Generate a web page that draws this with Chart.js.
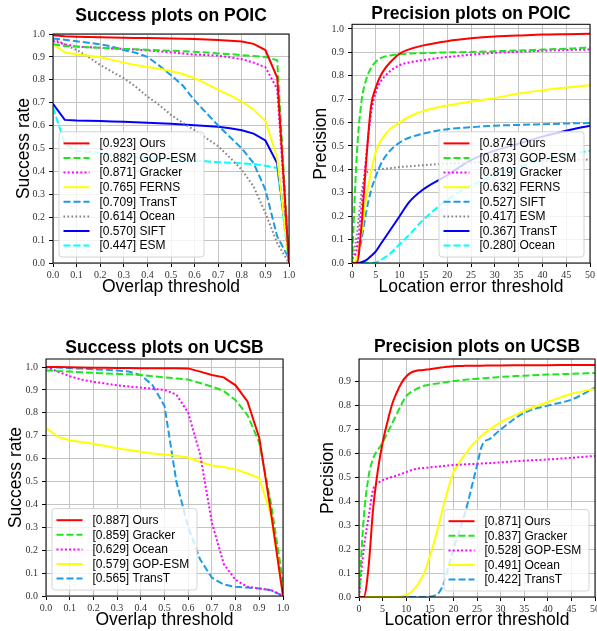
<!DOCTYPE html>
<html>
<head>
<meta charset="utf-8">
<script src="https://cdn.jsdelivr.net/npm/chart.js@4.4.1/dist/chart.umd.min.js"></script>
<style>
  html, body { margin: 0; padding: 0; background: #fff; width: 597px; height: 631px; overflow: hidden; }
  canvas { position: absolute; }
</style>
</head>
<body>
<canvas id="poicSuccess" width="298" height="316" style="left:0;top:0"></canvas>
<canvas id="poicPrecision" width="299" height="316" style="left:298px;top:0"></canvas>
<canvas id="ucsbSuccess" width="298" height="315" style="left:0;top:316px"></canvas>
<canvas id="ucsbPrecision" width="312" height="315" style="left:298px;top:316px"></canvas>
<script>
// ---------------- data ----------------
const overlapThresholds = [0, 0.05, 0.1, 0.15, 0.2, 0.25, 0.3, 0.35, 0.4, 0.45, 0.5,
                           0.55, 0.6, 0.65, 0.7, 0.75, 0.8, 0.85, 0.9, 0.95, 1.0];

// Success plots on POIC
const poicSuccessNames  = ['Ours', 'GOP-ESM', 'Gracker', 'FERNS', 'TransT', 'Ocean', 'SIFT', 'ESM'];
const poicSuccessScores = [0.923, 0.882, 0.871, 0.765, 0.709, 0.614, 0.570, 0.447];
const poicSuccessOurs    = [0.995, 0.99, 0.988, 0.987, 0.986, 0.985, 0.984, 0.983, 0.982, 0.981, 0.98, 0.979, 0.978, 0.976, 0.974, 0.971, 0.967, 0.957, 0.93, 0.81, 0.0];
const poicSuccessGopEsm  = [0.955, 0.948, 0.945, 0.942, 0.94, 0.937, 0.935, 0.933, 0.931, 0.929, 0.927, 0.925, 0.922, 0.919, 0.915, 0.912, 0.908, 0.904, 0.9, 0.885, 0.0];
const poicSuccessGracker = [0.97, 0.955, 0.945, 0.942, 0.94, 0.937, 0.935, 0.932, 0.928, 0.924, 0.92, 0.915, 0.91, 0.908, 0.905, 0.898, 0.89, 0.875, 0.855, 0.76, 0.0];
const poicSuccessFerns   = [0.955, 0.92, 0.912, 0.905, 0.898, 0.887, 0.875, 0.865, 0.856, 0.848, 0.838, 0.825, 0.807, 0.782, 0.756, 0.732, 0.705, 0.669, 0.62, 0.46, 0.0];
const poicSuccessTransT  = [0.98, 0.975, 0.968, 0.962, 0.955, 0.945, 0.93, 0.918, 0.9, 0.862, 0.82, 0.775, 0.71, 0.655, 0.6, 0.55, 0.5, 0.436, 0.32, 0.116, 0.02];
const poicSuccessOcean   = [0.98, 0.955, 0.93, 0.9, 0.865, 0.835, 0.807, 0.77, 0.727, 0.69, 0.647, 0.612, 0.58, 0.545, 0.51, 0.46, 0.407, 0.334, 0.218, 0.087, 0.0];
const poicSuccessSift    = [0.695, 0.625, 0.622, 0.621, 0.62, 0.618, 0.617, 0.615, 0.612, 0.61, 0.608, 0.605, 0.602, 0.598, 0.595, 0.588, 0.58, 0.565, 0.535, 0.435, 0.03];
const poicSuccessEsm     = [0.68, 0.52, 0.49, 0.485, 0.48, 0.472, 0.465, 0.462, 0.458, 0.455, 0.452, 0.45, 0.447, 0.444, 0.44, 0.438, 0.435, 0.432, 0.425, 0.415, 0.0];

// Precision plots on POIC
const poicErrThresholds = [0, 1, 2, 3, 4, 5, 6, 7, 8, 10, 12, 15, 20, 25, 30, 35, 40, 45, 50];
const poicPrecisionNames  = ['Ours', 'GOP-ESM', 'Gracker', 'FERNS', 'SIFT', 'ESM', 'TransT', 'Ocean'];
const poicPrecisionScores = [0.874, 0.873, 0.819, 0.632, 0.527, 0.417, 0.367, 0.280];
const poicPrecisionOurs    = [0, 0.0, 0.16, 0.44, 0.67, 0.75, 0.8, 0.833, 0.857, 0.895, 0.913, 0.93, 0.948, 0.96, 0.968, 0.972, 0.976, 0.978, 0.98];
const poicPrecisionGopEsm  = [0, 0.46, 0.69, 0.785, 0.833, 0.86, 0.875, 0.883, 0.887, 0.892, 0.895, 0.897, 0.9, 0.902, 0.905, 0.908, 0.912, 0.916, 0.92];
const poicPrecisionGracker = [0.02, 0.06, 0.24, 0.46, 0.64, 0.73, 0.775, 0.8, 0.82, 0.845, 0.857, 0.867, 0.88, 0.89, 0.898, 0.903, 0.907, 0.91, 0.912];
const poicPrecisionFerns   = [0, 0.02, 0.13, 0.28, 0.39, 0.475, 0.52, 0.55, 0.572, 0.6, 0.625, 0.65, 0.673, 0.69, 0.705, 0.724, 0.738, 0.75, 0.76];
const poicPrecisionSift    = [0, 0.01, 0.1, 0.22, 0.31, 0.37, 0.42, 0.455, 0.48, 0.515, 0.535, 0.553, 0.572, 0.58, 0.587, 0.59, 0.593, 0.596, 0.598];
const poicPrecisionEsm     = [0, 0.12, 0.3, 0.385, 0.393, 0.398, 0.401, 0.403, 0.405, 0.41, 0.413, 0.418, 0.425, 0.43, 0.433, 0.436, 0.438, 0.44, 0.442];
const poicPrecisionTransT  = [0, 0, 0.003, 0.012, 0.03, 0.05, 0.08, 0.11, 0.14, 0.2, 0.26, 0.315, 0.375, 0.44, 0.48, 0.51, 0.54, 0.565, 0.587];
const poicPrecisionOcean   = [0, 0, 0, 0, 0, 0.003, 0.012, 0.025, 0.04, 0.08, 0.12, 0.185, 0.27, 0.33, 0.375, 0.41, 0.44, 0.462, 0.48];

// Success plots on UCSB
const ucsbSuccessNames  = ['Ours', 'Gracker', 'Ocean', 'GOP-ESM', 'TransT'];
const ucsbSuccessScores = [0.887, 0.859, 0.629, 0.579, 0.565];
const ucsbSuccessOurs    = [1.0, 1.0, 0.999, 0.998, 0.997, 0.997, 0.996, 0.996, 0.995, 0.995, 0.995, 0.995, 0.994, 0.98, 0.965, 0.955, 0.92, 0.85, 0.69, 0.36, 0.0];
const ucsbSuccessGracker = [0.985, 0.982, 0.98, 0.977, 0.975, 0.972, 0.97, 0.968, 0.965, 0.96, 0.955, 0.95, 0.945, 0.93, 0.915, 0.895, 0.855, 0.79, 0.67, 0.4, 0.06];
const ucsbSuccessOcean   = [1.0, 0.98, 0.96, 0.945, 0.935, 0.928, 0.92, 0.915, 0.91, 0.905, 0.9, 0.88, 0.8, 0.62, 0.32, 0.14, 0.07, 0.04, 0.033, 0.025, 0.0];
const ucsbSuccessGopEsm  = [0.735, 0.695, 0.68, 0.673, 0.665, 0.655, 0.645, 0.638, 0.63, 0.622, 0.618, 0.612, 0.605, 0.585, 0.57, 0.563, 0.553, 0.535, 0.515, 0.35, 0.0];
const ucsbSuccessTransT  = [1.0, 0.998, 0.995, 0.993, 0.99, 0.988, 0.985, 0.98, 0.965, 0.92, 0.83, 0.5, 0.3, 0.16, 0.08, 0.05, 0.04, 0.037, 0.033, 0.025, 0.0];

// Precision plots on UCSB
const ucsbErrThresholds = [0, 1, 2, 3, 4, 5, 6, 7, 8, 9, 10, 11, 12, 13, 14, 15, 16, 17, 18, 19, 20,
                           21, 22, 23, 24, 25, 26, 28, 30, 35, 40, 45, 50];
const ucsbPrecisionNames  = ['Ours', 'Gracker', 'GOP-ESM', 'Ocean', 'TransT'];
const ucsbPrecisionScores = [0.871, 0.837, 0.528, 0.491, 0.422];
const ucsbPrecisionOurs    = [0, 0, 0.12, 0.37, 0.53, 0.645, 0.73, 0.805, 0.855, 0.895, 0.922, 0.938, 0.945, 0.948, 0.95, 0.952, 0.955, 0.958, 0.961, 0.963, 0.965,
                              0.966, 0.966, 0.967, 0.967, 0.967, 0.967, 0.968, 0.968, 0.969, 0.969, 0.97, 0.97];
const ucsbPrecisionGracker = [0, 0.33, 0.5, 0.58, 0.615, 0.645, 0.685, 0.725, 0.765, 0.805, 0.84, 0.857, 0.868, 0.877, 0.884, 0.888, 0.891, 0.894, 0.897, 0.9, 0.903,
                              0.905, 0.907, 0.909, 0.911, 0.912, 0.914, 0.917, 0.92, 0.925, 0.93, 0.933, 0.937];
const ucsbPrecisionGopEsm  = [0, 0.2, 0.33, 0.45, 0.475, 0.488, 0.495, 0.502, 0.508, 0.515, 0.522, 0.53, 0.535, 0.538, 0.54, 0.542, 0.544, 0.546, 0.548, 0.55, 0.552,
                              0.553, 0.554, 0.555, 0.556, 0.557, 0.558, 0.56, 0.563, 0.57, 0.575, 0.582, 0.59];
const ucsbPrecisionOcean   = [0, 0, 0, 0, 0, 0, 0, 0, 0, 0.003, 0.01, 0.02, 0.04, 0.07, 0.11, 0.17, 0.235, 0.31, 0.39, 0.46, 0.52,
                              0.555, 0.585, 0.61, 0.635, 0.655, 0.675, 0.705, 0.73, 0.778, 0.815, 0.85, 0.87];
const ucsbPrecisionTransT  = [0, 0, 0, 0, 0, 0, 0, 0, 0, 0, 0, 0, 0, 0, 0, 0.002, 0.006, 0.02, 0.06, 0.13, 0.2,
                              0.26, 0.32, 0.39, 0.47, 0.55, 0.63, 0.665, 0.7, 0.77, 0.8, 0.825, 0.875];

// ---------------- styling ----------------
// Line style by legend rank (same order in every panel)
const rankStyles = [
  { color: '#ff0000', dash: [] },
  { color: '#1ee61e', dash: [7, 3] },
  { color: '#ff00ff', dash: [2, 2.2] },
  { color: '#ffff00', dash: [] },
  { color: '#1c9be6', dash: [7, 3] },
  { color: '#808080', dash: [1.6, 2.4] },
  { color: '#0000ff', dash: [] },
  { color: '#00ffff', dash: [7, 3] }
];

const SANS = '"Liberation Sans", Arial, sans-serif';
const SERIF = '"Liberation Serif", "Times New Roman", serif';

// Axes frame and an in-plot legend box (semi-transparent, like a matplotlib legend)
const frameLegend = {
  id: 'frameLegend',
  afterDatasetsDraw(chart, args, opts) {
    const { ctx, chartArea: a } = chart;
    ctx.save();
    ctx.strokeStyle = '#000';
    ctx.lineWidth = 1;
    ctx.setLineDash([]);
    ctx.strokeRect(a.left, a.top, a.right - a.left, a.bottom - a.top);

    const sets = chart.data.datasets;
    const rowH = 14.6, w = 145, h = 23 + (sets.length - 1) * rowH;
    const x0 = opts.corner === 'left' ? a.left + 6 : a.right - 6 - w;
    const y0 = a.bottom - 6 - h;
    const r = 3;
    ctx.beginPath();
    ctx.moveTo(x0 + r, y0);
    ctx.lineTo(x0 + w - r, y0);
    ctx.arcTo(x0 + w, y0, x0 + w, y0 + r, r);
    ctx.lineTo(x0 + w, y0 + h - r);
    ctx.arcTo(x0 + w, y0 + h, x0 + w - r, y0 + h, r);
    ctx.lineTo(x0 + r, y0 + h);
    ctx.arcTo(x0, y0 + h, x0, y0 + h - r, r);
    ctx.lineTo(x0, y0 + r);
    ctx.arcTo(x0, y0, x0 + r, y0, r);
    ctx.closePath();
    ctx.fillStyle = 'rgba(255,255,255,0.8)';
    ctx.fill();
    ctx.strokeStyle = '#d4d4d4';
    ctx.stroke();

    ctx.font = '12px ' + SANS;
    ctx.textBaseline = 'middle';
    ctx.textAlign = 'left';
    sets.forEach((ds, i) => {
      const y = y0 + 11.6 + i * rowH;
      ctx.beginPath();
      ctx.setLineDash(ds.borderDash);
      ctx.strokeStyle = ds.borderColor;
      ctx.lineWidth = ds.borderWidth;
      ctx.moveTo(x0 + 4.5, y);
      ctx.lineTo(x0 + 30.5, y);
      ctx.stroke();
      ctx.setLineDash([]);
      ctx.fillStyle = '#000';
      ctx.fillText(ds.label, x0 + 40.5, y + 0.5);
    });
    ctx.restore();
  }
};

function makePanel(p) {
  const datasets = p.series.map((ys, i) => ({
    label: '[' + p.scores[i].toFixed(3) + '] ' + p.names[i],
    data: ys.map((y, k) => ({ x: p.xs[k], y })),
    borderColor: rankStyles[i].color,
    borderDash: rankStyles[i].dash,
    borderWidth: 2,
    pointRadius: 0,
    fill: false,
    cubicInterpolationMode: p.smooth ? 'monotone' : 'default',
    tension: 0
  })).reverse();
  // draw the top-ranked curve last, keep legend order top-down
  const ordered = datasets.slice().reverse();
  ordered.forEach((d, i) => { d.order = i; });

  new Chart(document.getElementById(p.canvas), {
    type: 'line',
    data: { datasets: ordered },
    plugins: [frameLegend],
    options: {
      responsive: false,
      animation: false,
      devicePixelRatio: 1,
      layout: { padding: { left: 0, right: p.padRight, top: 0, bottom: p.padBottom } },
      plugins: {
        legend: { display: false },
        tooltip: { enabled: false },
        title: {
          display: true,
          text: p.title,
          fullSize: false,
          color: '#000',
          font: { family: SANS, size: 17.5, weight: 'bold', lineHeight: 1.2 },
          padding: p.titlePad
        },
        frameLegend: { corner: p.corner }
      },
      scales: {
        x: {
          type: 'linear',
          min: 0,
          max: p.xMax,
          afterFit: s => { s.height = p.xAxisHeight; },
          ticks: {
            stepSize: p.xStep,
            includeBounds: false,
            autoSkip: false,
            maxRotation: 0,
            padding: 2,
            color: '#333',
            font: { family: SERIF, size: 10 },
            callback: v => v.toFixed(p.xDigits)
          },
          grid: { color: '#c4c4c4', lineWidth: 1, tickColor: '#000', tickLength: 4 },
          border: { display: false },
          title: {
            display: true,
            text: p.xTitle,
            color: '#000',
            font: { family: SANS, size: 17.5, lineHeight: 1.2 },
            padding: { top: 0, bottom: p.xTitlePad }
          }
        },
        y: {
          type: 'linear',
          min: 0,
          max: p.yMax,
          afterFit: s => { s.width = p.yAxisWidth; },
          ticks: {
            stepSize: 0.1,
            includeBounds: false,
            padding: 4,
            color: '#333',
            font: { family: SERIF, size: 10 },
            callback: v => v.toFixed(1)
          },
          grid: { color: '#c4c4c4', lineWidth: 1, tickColor: '#000', tickLength: 4 },
          border: { display: false },
          title: {
            display: true,
            text: p.yTitle,
            color: '#000',
            font: { family: SANS, size: 17.5, lineHeight: 1.2 },
            padding: { top: p.yTitlePad, bottom: 0 }
          }
        }
      }
    }
  });
}

makePanel({
  canvas: 'poicSuccess', title: 'Success plots on POIC',
  xTitle: 'Overlap threshold', yTitle: 'Success rate',
  xs: overlapThresholds, xMax: 1, xStep: 0.1, xDigits: 1, yMax: 1.0, smooth: false,
  names: poicSuccessNames, scores: poicSuccessScores,
  series: [poicSuccessOurs, poicSuccessGopEsm, poicSuccessGracker, poicSuccessFerns,
           poicSuccessTransT, poicSuccessOcean, poicSuccessSift, poicSuccessEsm],
  corner: 'left', yAxisWidth: 53, padRight: 9, padBottom: 13, xAxisHeight: 40,
  titlePad: { top: 5.5, bottom: 7.5 }, yTitlePad: 13.5, xTitlePad: 5.5
});

makePanel({
  canvas: 'poicPrecision', title: 'Precision plots on POIC',
  xTitle: 'Location error threshold', yTitle: 'Precision',
  xs: poicErrThresholds, xMax: 50, xStep: 5, xDigits: 0, yMax: 1.02, smooth: true,
  names: poicPrecisionNames, scores: poicPrecisionScores,
  series: [poicPrecisionOurs, poicPrecisionGopEsm, poicPrecisionGracker, poicPrecisionFerns,
           poicPrecisionSift, poicPrecisionEsm, poicPrecisionTransT, poicPrecisionOcean],
  corner: 'right', yAxisWidth: 54, padRight: 7, padBottom: 13, xAxisHeight: 40,
  titlePad: { top: 3.3, bottom: 0 }, yTitlePad: 12.5, xTitlePad: 5.5
});

makePanel({
  canvas: 'ucsbSuccess', title: 'Success plots on UCSB',
  xTitle: 'Overlap threshold', yTitle: 'Success rate',
  xs: overlapThresholds, xMax: 1, xStep: 0.1, xDigits: 1, yMax: 1.035, smooth: false,
  names: ucsbSuccessNames, scores: ucsbSuccessScores,
  series: [ucsbSuccessOurs, ucsbSuccessGracker, ucsbSuccessOcean, ucsbSuccessGopEsm, ucsbSuccessTransT],
  corner: 'left', yAxisWidth: 46, padRight: 15, padBottom: 0, xAxisHeight: 35,
  titlePad: { top: 21.5, bottom: 0.5 }, yTitlePad: 5.5, xTitlePad: 0.5
});

makePanel({
  canvas: 'ucsbPrecision', title: 'Precision plots on UCSB',
  xTitle: 'Location error threshold', yTitle: 'Precision',
  xs: ucsbErrThresholds, xMax: 50, xStep: 5, xDigits: 0, yMax: 0.995, smooth: true,
  names: ucsbPrecisionNames, scores: ucsbPrecisionScores,
  series: [ucsbPrecisionOurs, ucsbPrecisionGracker, ucsbPrecisionGopEsm, ucsbPrecisionOcean, ucsbPrecisionTransT],
  corner: 'right', yAxisWidth: 61, padRight: 15, padBottom: 0, xAxisHeight: 34,
  titlePad: { top: 21, bottom: 1 }, yTitlePad: 19.5, xTitlePad: 0.5
});
</script>
</body>
</html>
